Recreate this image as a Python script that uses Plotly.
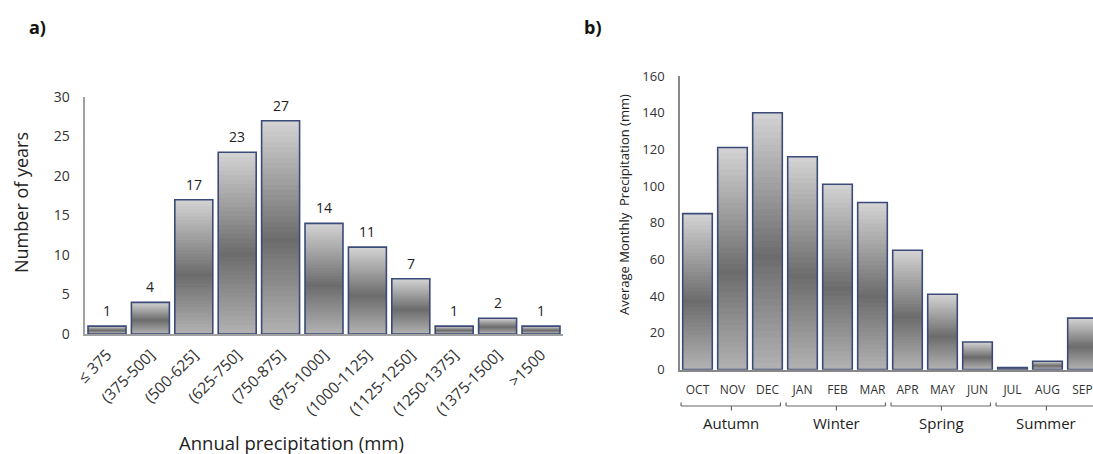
import plotly.graph_objects as go

# ---------------- data ----------------
bins = ["≤ 375", "(375-500]", "(500-625]", "(625-750]", "(750-875]", "(875-1000]",
        "(1000-1125]", "(1125-1250]", "(1250-1375]", "(1375-1500]", ">1500"]
years = [1, 4, 17, 23, 27, 14, 11, 7, 1, 2, 1]

months = ["OCT", "NOV", "DEC", "JAN", "FEB", "MAR", "APR", "MAY", "JUN", "JUL", "AUG", "SEP"]
precip = [85, 121, 140, 116, 101, 91, 65, 41, 15, 1, 4.5, 28]

seasons = ["Autumn", "Winter", "Spring", "Summer"]
season_start = [0, 3, 6, 9]   # month index where each season begins

left_ticks = [0, 5, 10, 15, 20, 25, 30]
right_ticks = [0, 20, 40, 60, 80, 100, 120, 140, 160]

# ---------------- style ----------------
FONT = "Open Sans"
TXT = "#333333"
AXC = "#a0a0a0"
EDGE = "#3b4a78"
N = 40
stops = [(0.0, (212, 212, 212)), (0.56, (108, 108, 108)), (1.0, (178, 178, 178))]


def grad(t):
    for (t0, c0), (t1, c1) in zip(stops[:-1], stops[1:]):
        if t <= t1:
            f = (t - t0) / (t1 - t0)
            return "rgb(%d,%d,%d)" % tuple(round(a + (b - a) * f) for a, b in zip(c0, c1))
    return "rgb(%d,%d,%d)" % stops[-1][1]


fig = go.Figure()


def gradient_bars(cats, vals, xa, ya, width):
    # stacked overlapping bars, each shorter one drawn on top -> vertical gradient
    for k in range(N):
        frac = (N - k) / N
        t = (k + 0.5) / N
        fig.add_trace(go.Bar(
            x=cats, y=[v * frac for v in vals], xaxis=xa, yaxis=ya, width=width,
            marker=dict(color=grad(t), line=dict(width=0)),
            showlegend=False, hoverinfo="skip"))
    fig.add_trace(go.Bar(
        x=cats, y=vals, xaxis=xa, yaxis=ya, width=width,
        marker=dict(color="rgba(0,0,0,0)", line=dict(color=EDGE, width=1.6)),
        showlegend=False))


gradient_bars(bins, years, "x", "y", 0.875)
gradient_bars(months, precip, "x2", "y2", 0.846)

annotations = []
# value labels on left chart
for c, v in zip(bins, years):
    annotations.append(dict(x=c, y=v, xref="x", yref="y", text=str(v), showarrow=False,
                            yanchor="bottom", yshift=4,
                            font=dict(family=FONT, size=14, color="#222222")))

# season brackets on right chart
shapes = []
yb = (454 - 406) / 454
yup = (454 - 402.5) / 454
ydn = (454 - 410.5) / 454
for s, i0 in zip(seasons, season_start):
    x0, x1, xm = i0 - 0.47, i0 + 2 + 0.37, i0 + 0.97
    line = dict(color="#666666", width=1.2)
    shapes.append(dict(type="line", xref="x2", yref="paper", x0=x0, x1=x1, y0=yb, y1=yb, line=line))
    shapes.append(dict(type="line", xref="x2", yref="paper", x0=x0, x1=x0, y0=yb, y1=yup, line=line))
    shapes.append(dict(type="line", xref="x2", yref="paper", x0=x1, x1=x1, y0=yb, y1=yup, line=line))
    shapes.append(dict(type="line", xref="x2", yref="paper", x0=xm, x1=xm, y0=yb, y1=ydn, line=line))
    annotations.append(dict(x=xm, y=(454 - 423) / 454, xref="x2", yref="paper", text=s,
                            showarrow=False, xanchor="center", yanchor="middle",
                            font=dict(family=FONT, size=15, color="#222222")))

# titles
def note(x, y, text, size, angle=0, color="#222222"):
    annotations.append(dict(x=x / 1093, y=(454 - y) / 454, xref="paper", yref="paper", text=text,
                            textangle=angle, showarrow=False, xanchor="center", yanchor="middle",
                            font=dict(family=FONT, size=size, color=color)))


note(291, 442, "Annual precipitation (mm)", 18.5)
note(21, 203, "Number of years", 18, -90)
note(624, 205, "Average Monthly  Precipitation (mm)", 13, -90)
note(37, 27, "<b>a)</b>", 18, 0, "#111111")
note(593, 27, "<b>b)</b>", 18, 0, "#111111")

fig.update_layout(
    template="none",
    width=1093, height=454, margin=dict(l=0, r=0, t=0, b=0, pad=0, autoexpand=False),
    paper_bgcolor="white", plot_bgcolor="white", barmode="overlay", showlegend=False,
    font=dict(family=FONT, color=TXT),
    xaxis=dict(domain=[85.3 / 1093, 562.7 / 1093], anchor="y", type="category", automargin=False,
               range=[-0.5, 10.5], showline=True, linecolor=AXC, linewidth=1.5,
               showgrid=False, zeroline=False, ticks="outside", ticklen=4, tickcolor="rgba(0,0,0,0)",
               tickangle=-45, tickfont=dict(family=FONT, size=15.5, color=TXT)),
    yaxis=dict(domain=[(454 - 334) / 454, (454 - 97) / 454], anchor="x", range=[0, 30], automargin=False,
               tickvals=left_ticks, showline=True, linecolor=AXC, linewidth=1.5,
               showgrid=False, zeroline=False, ticks="outside", ticklen=11,
               tickcolor="rgba(0,0,0,0)", tickfont=dict(family=FONT, size=14, color=TXT)),
    xaxis2=dict(domain=[680 / 1093, 1.0], anchor="y2", type="category", automargin=False,
                range=[-0.5, 11.3], showline=True, linecolor="#888888", linewidth=1.5,
                showgrid=False, zeroline=False, ticks="outside", ticklen=8, tickcolor="rgba(0,0,0,0)",
                tickfont=dict(family=FONT, size=12, color=TXT)),
    yaxis2=dict(domain=[(454 - 369.5) / 454, (454 - 76) / 454], anchor="x2", range=[0, 160],
                automargin=False, tickvals=right_ticks, showline=True, linecolor="#888888", linewidth=1.5,
                showgrid=False, zeroline=False, ticks="outside", ticklen=11,
                tickcolor="rgba(0,0,0,0)", tickfont=dict(family=FONT, size=13, color=TXT)),
    annotations=annotations, shapes=shapes,
)

fig.write_html("out.html", config={"displayModeBar": False},
               post_script="document.body.style.margin='0';document.body.style.overflow='hidden';")
